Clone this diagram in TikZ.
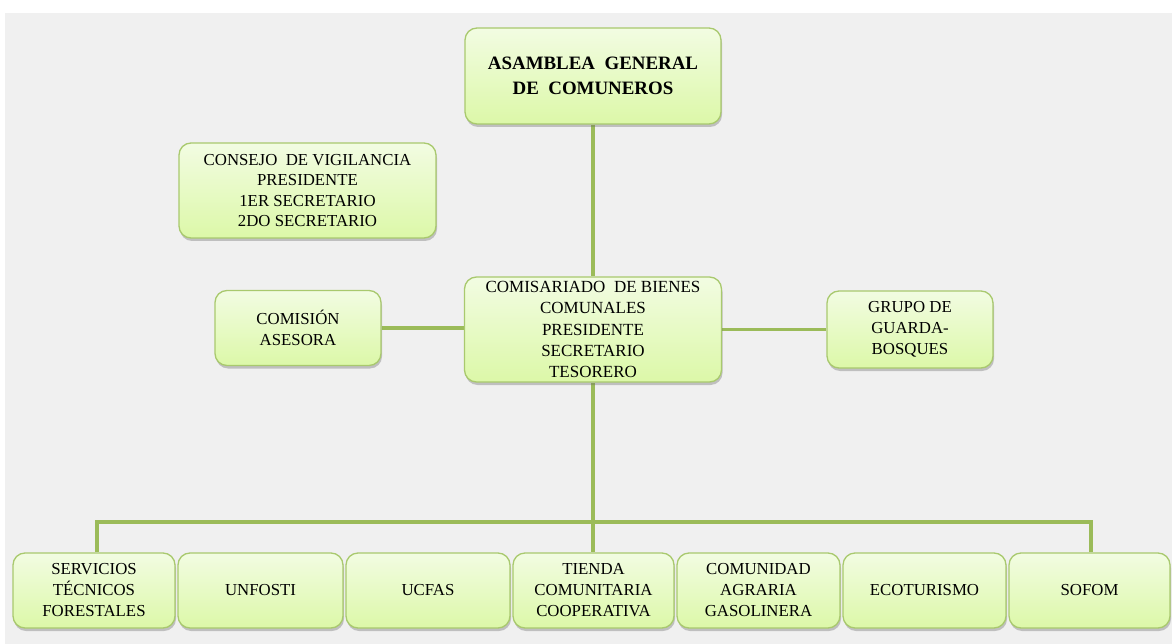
\documentclass[tikz,border=0pt]{standalone}
\usepackage{fontspec}
\setmainfont{Liberation Serif}
\usetikzlibrary{shadows}
\pgfdeclarelayer{background}
\pgfsetlayers{background,main}
\definecolor{bggray}{HTML}{F0F0F0}
\definecolor{linegreen}{HTML}{9BBB59}
\definecolor{boxedge}{HTML}{A9C96E}
\definecolor{boxtop}{HTML}{F2FCE2}
\definecolor{boxbot}{HTML}{DCF8A8}
\tikzset{
  orgbox/.style={draw=boxedge, line width=1.3pt, rounded corners=12pt,
    top color=boxtop, bottom color=boxbot, align=center, inner sep=1pt,
    font=\fontsize{16.8}{21}\selectfont,
    drop shadow={shadow xshift=1pt, shadow yshift=-3pt, opacity=0.35, fill=black!60}},
  conn/.style={draw=linegreen, line width=3.3pt}
}
\begin{document}
\begin{tikzpicture}[x=1pt,y=-1pt]
\useasboundingbox (0,0) rectangle (1172,644);
% boxes
\node[orgbox, minimum width=256pt, minimum height=96pt,
  font=\fontsize{18.9}{25}\selectfont\bfseries] (asamblea) at (593,76)
  {ASAMBLEA\ \ GENERAL\\DE\ \ COMUNEROS};
\node[orgbox, minimum width=257pt, minimum height=95pt,
  font=\fontsize{16.8}{20.3}\selectfont] (consejo) at (307.5,190.5)
  {CONSEJO\ \ DE VIGILANCIA\\PRESIDENTE\\1ER SECRETARIO\\2DO SECRETARIO};
\node[orgbox, minimum width=166pt, minimum height=75pt] (comision) at (298,328)
  {COMISIÓN\\ASESORA};
\node[orgbox, minimum width=257pt, minimum height=105pt,
  font=\fontsize{17}{21.2}\selectfont] (comisariado) at (593,329.5)
  {COMISARIADO\ \ DE BIENES\\COMUNALES\\PRESIDENTE\\SECRETARIO\\TESORERO};
\node[orgbox, minimum width=166pt, minimum height=77pt] (grupo) at (910,329.5)
  {GRUPO DE\\GUARDA-\\BOSQUES};
\node[orgbox, minimum width=162pt, minimum height=75pt] (b1) at (94,590.5)
  {SERVICIOS\\TÉCNICOS\\FORESTALES};
\node[orgbox, minimum width=165pt, minimum height=75pt] (b2) at (260.5,590.5) {UNFOSTI};
\node[orgbox, minimum width=164pt, minimum height=75pt] (b3) at (428,590.5) {UCFAS};
\node[orgbox, minimum width=161pt, minimum height=75pt] (b4) at (593.5,590.5)
  {TIENDA\\COMUNITARIA\\COOPERATIVA};
\node[orgbox, minimum width=163pt, minimum height=75pt] (b5) at (758.5,590.5)
  {COMUNIDAD\\AGRARIA\\GASOLINERA};
\node[orgbox, minimum width=163pt, minimum height=75pt] (b6) at (924.5,590.5) {ECOTURISMO};
\node[orgbox, minimum width=161pt, minimum height=75pt] (b7) at (1089.5,590.5) {SOFOM};
% connector coordinates
\coordinate (busL) at (97,522);
\coordinate (busR) at (1091,522);
\coordinate (busM) at (593,522);
\begin{pgfonlayer}{background}
\fill[white] (0,0) rectangle (1172,644);
\fill[bggray] (5,13) rectangle (1172,644);
\draw[conn] (asamblea.south) -- (comisariado.north);
\draw[conn] (comisariado.south) -- (busM);
\draw[conn] (b1.north -| busL) -- (busL) -- (busR) -- (b7.north -| busR);
\draw[conn] (busM) -- (b4.north -| busM);
\draw[conn] (comision.east) -- (comision.east -| comisariado.west);
\draw[conn] (comisariado.east) -- (comisariado.east -| grupo.west);
\end{pgfonlayer}
\end{tikzpicture}
\end{document}
